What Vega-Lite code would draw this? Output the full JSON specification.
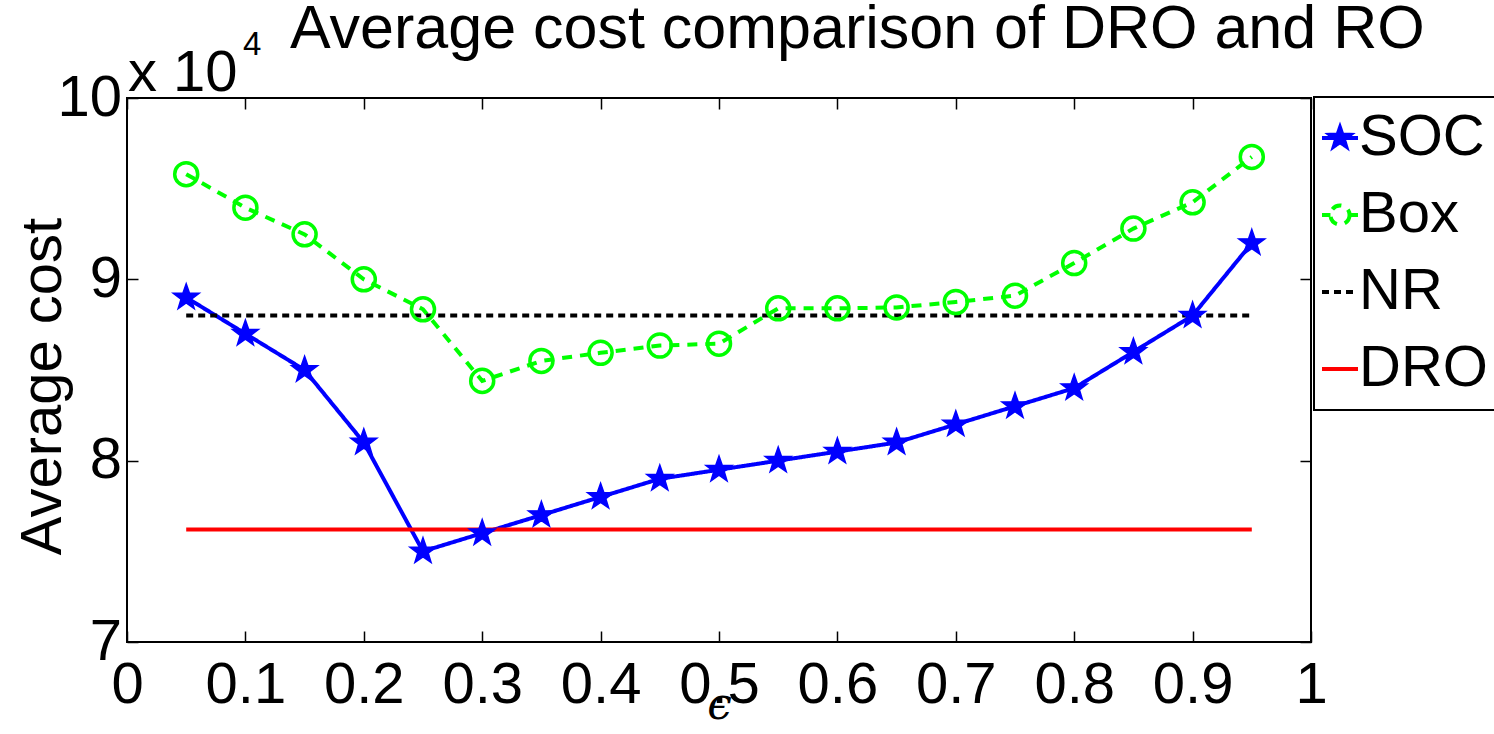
{
  "$schema": "https://vega.github.io/schema/vega-lite/v6.json",
  "width": 1184,
  "height": 544,
  "autosize": {"type": "none"},
  "padding": {"left": 127, "top": 98, "right": 183, "bottom": 92},
  "background": "white",
  "title": {
    "text": "Average cost comparison of DRO and RO",
    "anchor": "start",
    "frame": "group",
    "dx": 163,
    "dy": 80,
    "offset": 0,
    "baseline": "alphabetic",
    "fontSize": 61,
    "font": "Liberation Sans",
    "fontWeight": "normal",
    "color": "black"
  },
  "config": {
    "view": {"stroke": "black", "strokeWidth": 2},
    "axis": {
      "labelFont": "Liberation Sans",
      "labelFontSize": 58,
      "labelColor": "black",
      "tickColor": "black",
      "tickSize": -11,
      "tickWidth": 1.5,
      "domain": false,
      "grid": false,
      "labelFlush": false,
      "labelOverlap": false,
      "titleFont": "Liberation Sans",
      "titleFontWeight": "normal",
      "titleColor": "black"
    }
  },
  "data": {
    "values": [
      {"eps": 0.05, "series": "SOC", "cost": 89000},
      {"eps": 0.10, "series": "SOC", "cost": 87000},
      {"eps": 0.15, "series": "SOC", "cost": 85000},
      {"eps": 0.20, "series": "SOC", "cost": 81000},
      {"eps": 0.25, "series": "SOC", "cost": 75000},
      {"eps": 0.30, "series": "SOC", "cost": 76000},
      {"eps": 0.35, "series": "SOC", "cost": 77000},
      {"eps": 0.40, "series": "SOC", "cost": 78000},
      {"eps": 0.45, "series": "SOC", "cost": 79000},
      {"eps": 0.50, "series": "SOC", "cost": 79500},
      {"eps": 0.55, "series": "SOC", "cost": 80000},
      {"eps": 0.60, "series": "SOC", "cost": 80500},
      {"eps": 0.65, "series": "SOC", "cost": 81000},
      {"eps": 0.70, "series": "SOC", "cost": 82000},
      {"eps": 0.75, "series": "SOC", "cost": 83000},
      {"eps": 0.80, "series": "SOC", "cost": 84000},
      {"eps": 0.85, "series": "SOC", "cost": 86000},
      {"eps": 0.90, "series": "SOC", "cost": 88000},
      {"eps": 0.95, "series": "SOC", "cost": 92000},
      {"eps": 0.05, "series": "Box", "cost": 95800},
      {"eps": 0.10, "series": "Box", "cost": 93950},
      {"eps": 0.15, "series": "Box", "cost": 92480},
      {"eps": 0.20, "series": "Box", "cost": 90000},
      {"eps": 0.25, "series": "Box", "cost": 88350},
      {"eps": 0.30, "series": "Box", "cost": 84400},
      {"eps": 0.35, "series": "Box", "cost": 85500},
      {"eps": 0.40, "series": "Box", "cost": 85950},
      {"eps": 0.45, "series": "Box", "cost": 86350},
      {"eps": 0.50, "series": "Box", "cost": 86450},
      {"eps": 0.55, "series": "Box", "cost": 88400},
      {"eps": 0.60, "series": "Box", "cost": 88400},
      {"eps": 0.65, "series": "Box", "cost": 88450},
      {"eps": 0.70, "series": "Box", "cost": 88750},
      {"eps": 0.75, "series": "Box", "cost": 89100},
      {"eps": 0.80, "series": "Box", "cost": 90900},
      {"eps": 0.85, "series": "Box", "cost": 92800},
      {"eps": 0.90, "series": "Box", "cost": 94250},
      {"eps": 0.95, "series": "Box", "cost": 96750},
      {"eps": 0.05, "series": "NR", "cost": 88000},
      {"eps": 0.95, "series": "NR", "cost": 88000},
      {"eps": 0.05, "series": "DRO", "cost": 76200},
      {"eps": 0.95, "series": "DRO", "cost": 76200}
    ]
  },
  "layer": [
    {
      "mark": {"type": "line", "strokeCap": "butt"},
      "encoding": {
        "x": {
          "field": "eps",
          "type": "quantitative",
          "scale": {"domain": [0, 1], "nice": false, "zero": false},
          "axis": {
            "orient": "bottom",
            "values": [0, 0.1, 0.2, 0.3, 0.4, 0.5, 0.6, 0.7, 0.8, 0.9, 1],
            "labelExpr": "'' + datum.value",
            "labelPadding": 25,
            "title": "ϵ",
            "titleFont": "DejaVu Serif",
            "titleFontStyle": "italic",
            "titleFontSize": 44,
            "titleBaseline": "alphabetic",
            "titleX": 592,
            "titleY": 76
          }
        },
        "y": {
          "field": "cost",
          "type": "quantitative",
          "scale": {"domain": [70000, 100000], "nice": false, "zero": false},
          "axis": {
            "orient": "left",
            "values": [70000, 80000, 90000, 100000],
            "labelExpr": "'' + (datum.value / 10000)",
            "labelPadding": 16.5,
            "title": "Average cost",
            "titleFontSize": 58,
            "titleAngle": -90,
            "titleBaseline": "alphabetic",
            "titleAlign": "center",
            "titleX": -67,
            "titleY": 288
          }
        },
        "color": {
          "field": "series",
          "type": "nominal",
          "scale": {
            "domain": ["SOC", "Box", "NR", "DRO"],
            "range": ["#0000ff", "#00ff00", "#000000", "#ff0000"]
          },
          "legend": {
            "title": null,
            "orient": "none",
            "legendX": 1187,
            "legendY": -1,
            "padding": 12,
            "rowPadding": 19,
            "symbolSize": 1296,
            "symbolStrokeWidth": 3.5,
            "symbolOffset": -15,
            "labelFont": "Liberation Sans",
            "labelFontSize": 58,
            "labelColor": "black",
            "labelOffset": -10,
            "labelLimit": 400,
            "strokeColor": "black",
            "fillColor": "white",
            "encode": {
              "legend": {"update": {"strokeWidth": {"value": 2}}},
              "symbols": {
                "update": {
                  "shape": {"signal": "datum.value === 'SOC' ? 'M-1,0L1,0M0,-0.58L0.135,-0.186L0.552,-0.179L0.219,0.071L0.341,0.469L0,0.23L-0.341,0.469L-0.219,0.071L-0.552,-0.179L-0.135,-0.186Z' : datum.value === 'Box' ? 'M-1,0L-0.53,0M0.53,0L1,0M0.53,0A0.53,0.53,0,1,1,-0.53,0A0.53,0.53,0,1,1,0.53,0Z' : 'M-1,0L1,0'"},
                  "fill": {"signal": "datum.value === 'SOC' ? '#0000ff' : 'transparent'"},
                  "strokeDash": {"signal": "datum.value === 'NR' ? [7, 5] : [1, 0]"},
                  "opacity": {"value": 1}
                }
              }
            }
          }
        },
        "strokeDash": {
          "field": "series",
          "type": "nominal",
          "scale": {
            "domain": ["SOC", "Box", "NR", "DRO"],
            "range": [[1, 0], [10, 8], [7, 5], [1, 0]]
          },
          "legend": null
        },
        "strokeWidth": {
          "field": "series",
          "type": "nominal",
          "scale": {
            "domain": ["SOC", "Box", "NR", "DRO"],
            "range": [4, 4, 3.5, 5]
          },
          "legend": null
        }
      }
    },
    {
      "transform": [{"filter": "datum.series === 'Box'"}],
      "mark": {"type": "point", "shape": "circle", "filled": false, "color": "#00ff00", "size": 530, "strokeWidth": 3.5, "opacity": 1},
      "encoding": {
        "x": {"field": "eps", "type": "quantitative", "axis": null},
        "y": {"field": "cost", "type": "quantitative", "axis": null}
      }
    },
    {
      "transform": [{"filter": "datum.series === 'SOC'"}],
      "mark": {
        "type": "point",
        "shape": "M0,-1L0.235,-0.324L0.951,-0.309L0.38,0.124L0.588,0.809L0,0.4L-0.588,0.809L-0.38,0.124L-0.951,-0.309L-0.235,-0.324Z",
        "filled": true,
        "color": "#0000ff",
        "stroke": "#0000ff",
        "strokeWidth": 1.5,
        "size": 750,
        "opacity": 1
      },
      "encoding": {
        "x": {
          "field": "eps",
          "type": "quantitative",
          "axis": {"orient": "top", "values": [0, 0.1, 0.2, 0.3, 0.4, 0.5, 0.6, 0.7, 0.8, 0.9, 1], "labels": false, "title": null}
        },
        "y": {
          "field": "cost",
          "type": "quantitative",
          "axis": {"orient": "right", "values": [70000, 80000, 90000, 100000], "labels": false, "title": null}
        }
      }
    },
    {
      "data": {"values": [{"t": "x 10"}]},
      "mark": {"type": "text", "align": "left", "baseline": "alphabetic", "font": "Liberation Sans", "fontSize": 58, "color": "black", "dx": 1, "dy": -7},
      "encoding": {
        "text": {"field": "t"},
        "x": {"datum": 0, "type": "quantitative", "axis": null},
        "y": {"datum": 100000, "type": "quantitative", "axis": null}
      }
    },
    {
      "data": {"values": [{"t": "4"}]},
      "mark": {"type": "text", "align": "left", "baseline": "alphabetic", "font": "Liberation Sans", "fontSize": 33, "color": "black", "dx": 116, "dy": -43},
      "encoding": {
        "text": {"field": "t"},
        "x": {"datum": 0, "type": "quantitative", "axis": null},
        "y": {"datum": 100000, "type": "quantitative", "axis": null}
      }
    }
  ],
  "resolve": {"axis": {"x": "independent", "y": "independent"}}
}
